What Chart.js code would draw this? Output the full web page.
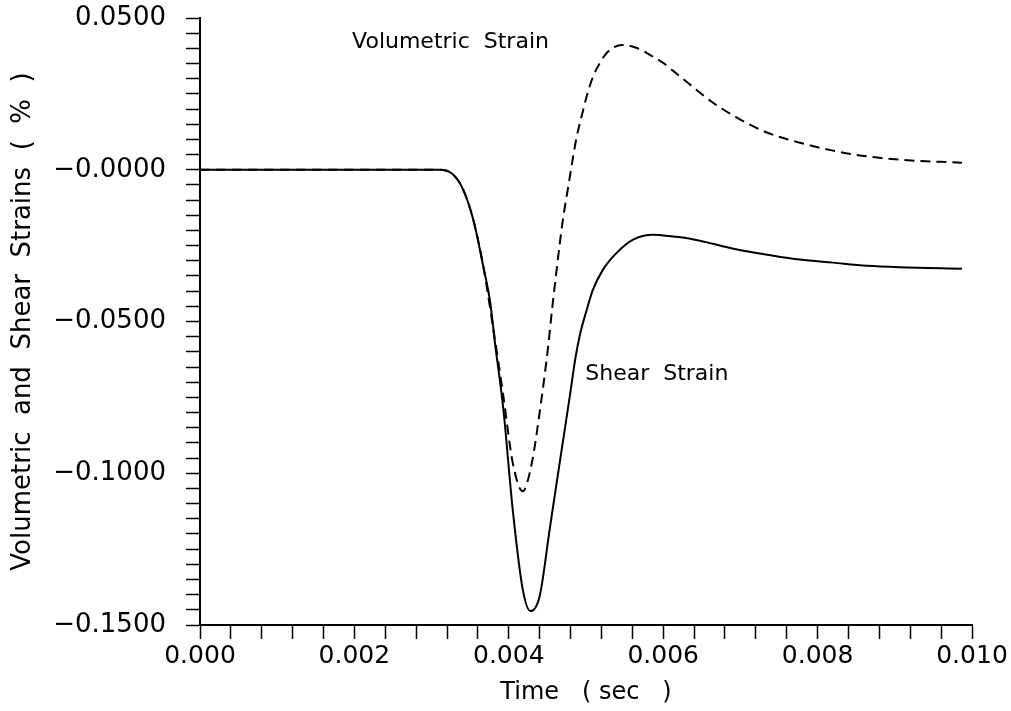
<!DOCTYPE html>
<html>
<head>
<meta charset="utf-8">
<script src="https://cdn.jsdelivr.net/npm/chart.js@4.4.1/dist/chart.umd.min.js"></script>
<style>
  html, body { margin: 0; padding: 0; background: #fff; }
  canvas { display: block; }
</style>
</head>
<body>
<canvas id="strain-chart" width="1011" height="711"></canvas>
<script>
// --- data (time in sec, strain in %) ---
const shearTime = [0, 0.0015, 0.0030, 0.00311, 0.00328, 0.00341, 0.00354, 0.00367, 0.00376, 0.00382, 0.00393, 0.00405, 0.00418, 0.00428, 0.00440, 0.00453, 0.00466, 0.00479, 0.00486, 0.00492, 0.00501, 0.00509, 0.00522, 0.00540, 0.00561, 0.00587, 0.00613, 0.00635, 0.00696, 0.00735, 0.00777, 0.00820, 0.00864, 0.00907, 0.00987];
const shearStrain = [0, 0, 0, 0, -0.0016, -0.0066, -0.0165, -0.0319, -0.0438, -0.0569, -0.0790, -0.1118, -0.1382, -0.1454, -0.1405, -0.1184, -0.0964, -0.0747, -0.0625, -0.0545, -0.0461, -0.0395, -0.0329, -0.0273, -0.0230, -0.0214, -0.0220, -0.0227, -0.0263, -0.0280, -0.0296, -0.0306, -0.0316, -0.0321, -0.0326];

const volTime = [0, 0.0015, 0.0030, 0.00311, 0.00328, 0.00341, 0.00354, 0.00367, 0.00380, 0.00393, 0.00405, 0.00418, 0.00430, 0.00440, 0.00451, 0.00456, 0.00462, 0.00470, 0.00477, 0.00482, 0.00488, 0.00495, 0.00501, 0.00509, 0.00518, 0.00528, 0.00547, 0.00566, 0.00583, 0.00600, 0.00619, 0.00635, 0.00665, 0.00696, 0.00735, 0.00777, 0.00820, 0.00864, 0.00907, 0.00987];
const volStrain = [0, 0, 0, 0, -0.0016, -0.0066, -0.0165, -0.0319, -0.0526, -0.0747, -0.0964, -0.1059, -0.0964, -0.0799, -0.0582, -0.0461, -0.0329, -0.0165, -0.0056, 0.0023, 0.0109, 0.0183, 0.0243, 0.0306, 0.0352, 0.0388, 0.0411, 0.0401, 0.0378, 0.0352, 0.0313, 0.0280, 0.0220, 0.0171, 0.0122, 0.0089, 0.0063, 0.0044, 0.0033, 0.0023];

const xLabelValues = [0, 0.002, 0.004, 0.006, 0.008, 0.010];
const yLabelValues = [0.05, 0, -0.05, -0.10, -0.15];

const curveNotes = [
    { text: 'Volumetric  Strain', t: 0.00197, v: 0.0421 },
    { text: 'Shear  Strain', t: 0.00499, v: -0.0674 }
];

const FONT = 'DejaVu Sans';

function toPoints(xs, ys) {
    return xs.map((x, i) => ({ x: x, y: ys[i] }));
}
function isNear(v, list) {
    return list.some(l => Math.abs(v - l) < 1e-9);
}
function yFmt(v) {
    if (v <= 0) return '\u2212' + Math.abs(v).toFixed(4);
    return v.toFixed(4);
}

// curve captions, placed through the scales
const notesPlugin = {
    id: 'notes',
    afterDatasetsDraw(chart) {
        const { ctx, scales } = chart;
        ctx.save();
        ctx.fillStyle = '#000';
        ctx.font = `22px "${FONT}"`;
        ctx.textBaseline = 'middle';
        ctx.textAlign = 'left';
        curveNotes.forEach(n => {
            ctx.fillText(n.text, scales.x.getPixelForValue(n.t), scales.y.getPixelForValue(n.v));
        });
        ctx.restore();
    }
};

const whiteBg = {
    id: 'whiteBg',
    beforeDraw(chart) {
        const ctx = chart.ctx;
        ctx.save();
        ctx.fillStyle = '#fff';
        ctx.fillRect(0, 0, chart.width, chart.height);
        ctx.restore();
    }
};

new Chart(document.getElementById('strain-chart'), {
    type: 'line',
    data: {
        datasets: [
            {
                label: 'Volumetric Strain',
                data: toPoints(volTime, volStrain),
                borderColor: '#000',
                borderWidth: 2,
                borderDash: [10, 6],
                pointRadius: 0,
                cubicInterpolationMode: 'monotone',
                fill: false
            },
            {
                label: 'Shear Strain',
                data: toPoints(shearTime, shearStrain),
                borderColor: '#000',
                borderWidth: 2,
                pointRadius: 0,
                cubicInterpolationMode: 'monotone',
                fill: false
            }
        ]
    },
    options: {
        responsive: false,
        animation: false,
        layout: { padding: { top: 18, right: 39, left: 0, bottom: 0 } },
        plugins: {
            legend: { display: false },
            tooltip: { enabled: false }
        },
        scales: {
            x: {
                type: 'linear',
                min: 0,
                max: 0.010,
                afterFit: s => { s.height = 86; s.paddingLeft = 0; s.paddingRight = 0; },
                border: { display: true, color: '#000', width: 2 },
                grid: { drawOnChartArea: false, drawTicks: true, tickLength: 14, tickColor: '#000', tickWidth: 1.5 },
                ticks: {
                    stepSize: 0.0004,
                    autoSkip: false,
                    maxRotation: 0,
                    padding: 2,
                    color: '#000',
                    font: { family: FONT, size: 25 },
                    callback: v => isNear(v, xLabelValues) ? v.toFixed(3) : ''
                },
                title: {
                    display: true,
                    text: 'Time   ( sec   )',
                    color: '#000',
                    font: { family: FONT, size: 24 },
                    padding: { top: 0, bottom: 4 }
                }
            },
            y: {
                type: 'linear',
                min: -0.15,
                max: 0.05,
                afterFit: s => { s.width = 200; s.paddingTop = 0; s.paddingBottom = 0; },
                border: { display: true, color: '#000', width: 2 },
                grid: { drawOnChartArea: false, drawTicks: true, tickLength: 14, tickColor: '#000', tickWidth: 1.5 },
                ticks: {
                    stepSize: 0.005,
                    autoSkip: false,
                    padding: 20,
                    color: '#000',
                    font: { family: FONT, size: 26 },
                    callback: v => isNear(v, yLabelValues) ? yFmt(v) : ''
                },
                title: {
                    display: true,
                    text: 'Volumetric  and  Shear  Strains  (  %  )',
                    color: '#000',
                    font: { family: FONT, size: 26 },
                    padding: { top: 8, bottom: 0 }
                }
            }
        }
    },
    plugins: [whiteBg, notesPlugin]
});
</script>
</body>
</html>
